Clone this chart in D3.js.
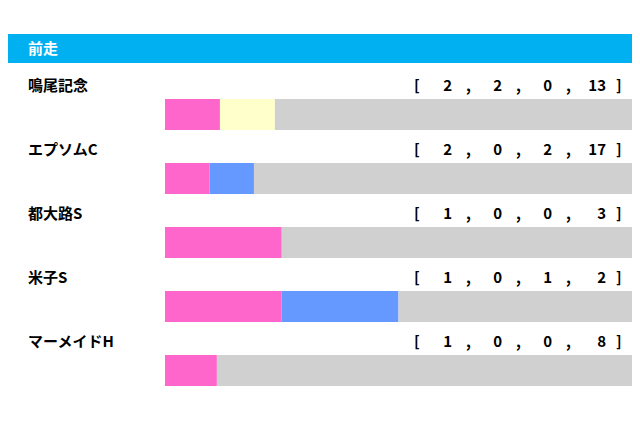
<!DOCTYPE html>
<html><head><meta charset="utf-8">
<script src="https://cdnjs.cloudflare.com/ajax/libs/d3/7.8.5/d3.min.js"></script>
<style>body{margin:0;background:#fff}</style></head>
<body><svg id="c" width="640" height="426"></svg>
<script>
const title = "前走";
const categories = ["鳴尾記念","エプソムC","都大路S","米子S","マーメイドH"];
const first = [2,2,1,1,1];
const second = [2,0,0,0,0];
const third = [0,2,0,1,0];
const others = [13,17,3,2,8];
const colors = ["#ff66cc","#ffffcc","#6699ff","#d0d0d0"];
const font = "'Noto Sans CJK JP','Noto Sans',sans-serif";
const svg = d3.select("#c");
svg.append("rect").attr("x",8).attr("y",34).attr("width",624).attr("height",29).attr("fill","#00b0f0");
svg.append("text").attr("x",28).attr("y",54).attr("fill","#fff").attr("font-family",font)
  .attr("font-weight","bold").attr("font-size",15).text(title);
const y = d3.scaleBand().domain(categories).range([66,386]);
categories.forEach((c,i)=>{
  const vals=[first[i],second[i],third[i],others[i]];
  const tot=d3.sum(vals);
  const x=d3.scaleLinear().domain([0,tot]).range([165,632]);
  const y0=y(c);
  const g=svg.append("g");
  g.append("text").attr("x",28).attr("y",y0+25).attr("font-family",font).attr("font-weight","bold")
   .attr("font-size",15).text(c);
  const cols=[452,502,552,606];
  g.append("text").attr("x",414).attr("y",y0+25).attr("font-family",font).attr("font-weight","bold").attr("font-size",15).text("[");
  g.append("text").attr("x",616).attr("y",y0+25).attr("font-family",font).attr("font-weight","bold").attr("font-size",15).text("]");
  vals.forEach((v,k)=>{
    g.append("text").attr("x",cols[k]).attr("y",y0+25).attr("text-anchor","end").attr("font-family",font)
     .attr("font-weight","bold").attr("font-size",15).text(v);
    if(k<3) g.append("text").attr("x",cols[k]+14).attr("y",y0+25).attr("font-family",font).attr("font-weight","bold").attr("font-size",15).text(",");
  });
  let acc=0;
  vals.forEach((v,k)=>{
    g.append("rect").attr("x",x(acc)).attr("y",y0+33).attr("width",x(acc+v)-x(acc)).attr("height",31).attr("fill",colors[k]);
    acc+=v;
  });
});
</script></body></html>
